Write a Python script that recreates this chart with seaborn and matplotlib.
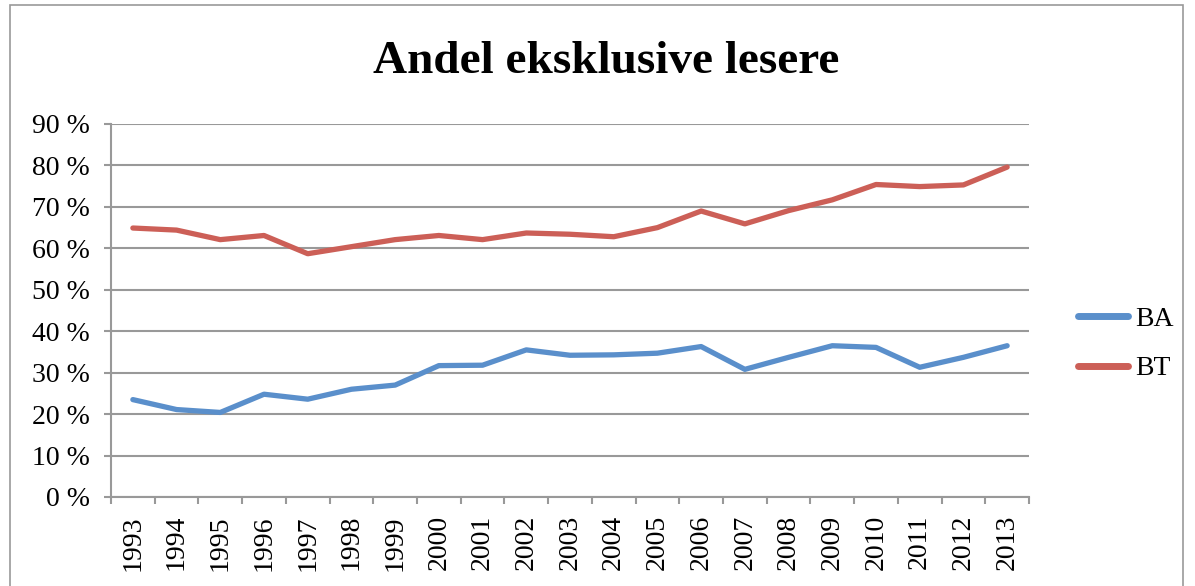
import matplotlib
matplotlib.use("Agg")
import matplotlib.pyplot as plt
import matplotlib.patches as patches
import numpy as np
import pandas as pd
import seaborn as sns

# data
years = [str(y) for y in range(1993, 2014)]
ba = [23.5, 21.1, 20.4, 24.8, 23.6, 26.0, 27.0, 31.7, 31.8, 35.5, 34.2,
      34.3, 34.7, 36.3, 30.8, 33.7, 36.5, 36.1, 31.3, 33.7, 36.5]
bt = [64.9, 64.4, 62.1, 63.1, 58.7, 60.4, 62.1, 63.1, 62.1, 63.7, 63.4,
      62.8, 65.0, 69.0, 65.9, 69.1, 71.7, 75.4, 74.9, 75.3, 79.6]
series = ["BA", "BT"]
colors = ["#5A8FCB", "#CC5F57"]
yticks = list(range(0, 91, 10))

df = pd.DataFrame({"year": years * 2,
                   "value": ba + bt,
                   "series": [series[0]] * len(years) + [series[1]] * len(years)})

sns.set_style("white")
plt.rcParams['font.family'] = ['Liberation Serif', 'DejaVu Serif']
plt.rcParams['text.color'] = 'black'
plt.rcParams['xtick.color'] = 'black'
plt.rcParams['ytick.color'] = 'black'

fig = plt.figure(figsize=(11.95, 5.86), dpi=100)
ax = fig.add_axes([111 / 1195, 1 - 497 / 586, (1029 - 111) / 1195, (497 - 124) / 586])

sns.lineplot(data=df, x="year", y="value", hue="series", palette=colors,
             linewidth=3.8, sort=False, ax=ax, solid_capstyle="round")

ax.set_xlim(-0.5, len(years) - 0.5)
ax.set_ylim(0, 90)
ax.set_yticks(yticks)
ax.set_yticklabels([f"{t} %" for t in yticks], fontsize=20)
ax.set_xticks(range(len(years)))
ax.set_xticklabels(years, rotation=90, fontsize=20)
ax.set_xticks(np.arange(-0.5, len(years), 1), minor=True)
ax.tick_params(axis="x", which="major", bottom=True, length=0, pad=13)
ax.tick_params(axis="x", which="minor", bottom=True, length=5, width=1.5,
               color="#999999", direction="out")
ax.tick_params(axis="y", left=True, length=5, width=1.5, color="#999999",
               direction="out", pad=10)
ax.grid(axis="y", color="#999999", linewidth=1.5)
ax.set_axisbelow(True)
for side in ["top", "right"]:
    ax.spines[side].set_visible(False)
for side in ["left", "bottom"]:
    ax.spines[side].set_color("#999999")
    ax.spines[side].set_linewidth(1.5)
ax.set_xlabel("")
ax.set_ylabel("")

leg = ax.legend(loc="center left", bbox_to_anchor=((1078 - 111) / 918, (497 - 344) / 373),
                frameon=False, fontsize=20, handlelength=1.8, handletextpad=0.25,
                labelspacing=0.85, borderpad=0, borderaxespad=0)
for h in leg.get_lines():
    h.set_linewidth(5)
    h.set_solid_capstyle("round")

fig.text(606 / 1195, 1 - 62 / 586, "Andel eksklusive lesere", ha="center", va="center",
         fontsize=34, fontweight="bold")

fig.patches.append(patches.Rectangle((10 / 1195, -0.02), 1173 / 1195, 1.02 - 5 / 586,
                                     transform=fig.transFigure, fill=False,
                                     edgecolor="#999999", linewidth=1.2))

fig.savefig("out.png", dpi=100)
